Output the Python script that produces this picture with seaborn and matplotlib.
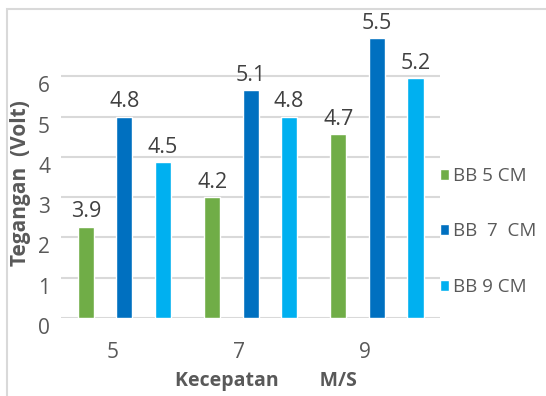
import pandas as pd
import numpy as np
import matplotlib.pyplot as plt
import matplotlib.transforms as mtransforms
from matplotlib.patches import Rectangle
import seaborn as sns

# data
kecepatan = ["5", "7", "9"]
series = ["BB 5 CM", "BB  7  CM", "BB 9 CM"]
# bar heights as drawn against the y axis
bb5 = [2.27, 3.0, 4.56]
bb7 = [5.0, 5.66, 6.95]
bb9 = [3.87, 5.0, 5.95]
# numbers printed above the bars
lbl5 = ["3.9", "4.2", "4.7"]
lbl7 = ["4.8", "5.1", "5.5"]
lbl9 = ["4.5", "4.8", "5.2"]

colors = ["#70AD47", "#0070C0", "#00B0F0"]
gray = "#595959"

df = pd.DataFrame({
    "kecepatan": kecepatan * 3,
    "seri": np.repeat(series, 3),
    "tegangan": bb5 + bb7 + bb9,
})

sns.set_style("white")
plt.rcParams["font.family"] = ["Open Sans", "DejaVu Sans"]

fig = plt.figure(figsize=(5.46, 3.96), dpi=100)
ax = fig.add_axes([0.112, 0.197, 0.694, 0.763])

sns.barplot(data=df, x="kecepatan", y="tegangan", hue="seri", palette=colors,
            saturation=1, width=0.915, gap=0.58, ax=ax, errorbar=None)

for cont, lbl in zip(ax.containers, [lbl5, lbl7, lbl9]):
    ax.bar_label(cont, labels=lbl, padding=3, fontsize=15.5, color="#404040")

ax.set_ylim(0, 7.5)
ax.set_xlim(-0.5, 2.5)
ax.set_yticks(range(0, 7))
ax.yaxis.grid(True, color="#D9D9D9", linewidth=1.5)
ax.set_axisbelow(True)
sns.despine(ax=ax, left=True, bottom=True)
ax.tick_params(length=0, labelsize=15, labelcolor=gray)
ax.tick_params(axis="y", pad=8)
ax.tick_params(axis="x", pad=17)

# tick labels sit a bit lower / left like in the original
off_y = mtransforms.ScaledTranslation(0, -0.08, fig.dpi_scale_trans)
for t in ax.get_yticklabels():
    t.set_transform(t.get_transform() + off_y)
off_x = mtransforms.ScaledTranslation(-0.12, 0, fig.dpi_scale_trans)
for t in ax.get_xticklabels():
    t.set_transform(t.get_transform() + off_x)

ax.set_ylabel("Tegangan  (Volt)", fontsize=15, fontweight="bold", color=gray)
ax.yaxis.set_label_coords(-0.08, 0.447)
ax.set_xlabel("Kecepatan        M/S", fontsize=14, fontweight="bold", color=gray, labelpad=0)
ax.xaxis.set_label_coords(0.54, -0.175)

handles, labels = ax.get_legend_handles_labels()
leg = ax.legend(handles, labels, loc="upper left", bbox_to_anchor=(0.98, 0.525),
                frameon=False, fontsize=13.5, labelcolor=gray, labelspacing=2.0,
                handlelength=0.5, handleheight=0.5, handletextpad=0.2, borderaxespad=0)

# outer chart frame
fig.patches.append(Rectangle((0.013, -0.1), 1.2, 1.077, transform=fig.transFigure,
                             fill=False, edgecolor="#D9D9D9", linewidth=1.5))

fig.savefig("out.png", dpi=100)
